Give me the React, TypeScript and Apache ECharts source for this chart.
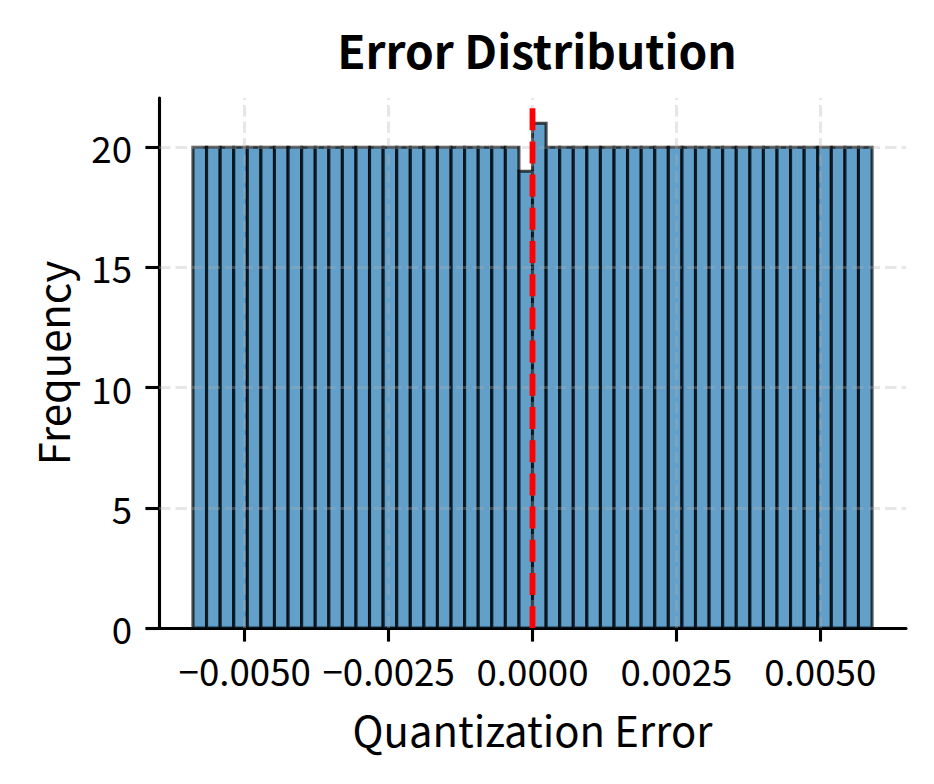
import React, { useEffect, useRef } from "react";
import * as echarts from "echarts";

// Histogram of quantization error (50 bins)
const binLo = -0.0059;
const binHi = 0.0059;
const counts = [
  20, 20, 20, 20, 20, 20, 20, 20, 20, 20,
  20, 20, 20, 20, 20, 20, 20, 20, 20, 20,
  20, 20, 20, 20, 19, 21, 20, 20, 20, 20,
  20, 20, 20, 20, 20, 20, 20, 20, 20, 20,
  20, 20, 20, 20, 20, 20, 20, 20, 20, 20,
];
const xTicks = [-0.005, -0.0025, 0, 0.0025, 0.005];
const yTicks = [0, 5, 10, 15, 20];
const meanError = 0;
const xMin = -0.00649;
const xMax = 0.00649;
const yMax = 22.05;

const FONT = "Noto Sans CJK JP";

const fmtX = (v: number) => (v < 0 ? "\u2212" : "") + Math.abs(v).toFixed(4);

export default function App() {
  const ref = useRef<HTMLDivElement>(null);
  useEffect(() => {
    if (!ref.current) return;
    const chart = echarts.init(ref.current, null, { renderer: "svg" });
    const n = counts.length;
    const w = (binHi - binLo) / n;
    const binData = counts.map((c, i) => [binLo + i * w, binLo + (i + 1) * w, c]);
    const gridColor = "rgba(176,176,176,0.3)";
    const gridLines = [
      ...xTicks.map((v) => [{ coord: [v, 0] }, { coord: [v, yMax] }]),
      ...yTicks.filter((v) => v > 0).map((v) => [{ coord: [xMin, v] }, { coord: [xMax, v] }]),
    ];
    chart.setOption({
      animation: false,
      backgroundColor: "#ffffff",
      title: {
        text: "Error Distribution",
        left: 532,
        textAlign: "center",
        top: 21,
        textStyle: { fontFamily: FONT, fontWeight: "bold", fontSize: 46, color: "#000" },
      },
      grid: { left: 159, right: 28, top: 98, bottom: 156 },
      xAxis: {
        type: "value",
        min: xMin,
        max: xMax,
        name: "Quantization Error",
        nameLocation: "middle",
        nameGap: 80,
        nameTextStyle: { fontFamily: FONT, fontSize: 41.8, color: "#000" },
        axisLine: { show: true, onZero: false, lineStyle: { color: "#000", width: 3.1 } },
        axisTick: { show: true, length: 13.6, lineStyle: { color: "#000", width: 3.1 }, customValues: xTicks },
        axisLabel: {
          show: true,
          margin: 24,
          fontFamily: FONT,
          fontSize: 36.7,
          color: "#000",
          customValues: xTicks,
          formatter: fmtX,
        },
        splitLine: { show: false },
      },
      yAxis: {
        type: "value",
        min: 0,
        max: yMax,
        name: "Frequency",
        nameLocation: "middle",
        nameGap: 86,
        nameTextStyle: { fontFamily: FONT, fontSize: 41.8, color: "#000" },
        axisLine: { show: true, onZero: false, lineStyle: { color: "#000", width: 3.1 } },
        axisTick: { show: true, length: 13.6, lineStyle: { color: "#000", width: 3.1 }, customValues: yTicks },
        axisLabel: {
          show: true,
          margin: 27,
          fontFamily: FONT,
          fontSize: 36.7,
          color: "#000",
          customValues: yTicks,
          formatter: (v: number) => String(v),
        },
        splitLine: { show: false },
      },
      series: [
        {
          type: "custom",
          z: 2,
          data: binData,
          encode: { x: [0, 1], y: 2 },
          renderItem: (params: any, api: any) => {
            const x0 = api.value(0);
            const x1 = api.value(1);
            const c = api.value(2);
            const p0 = api.coord([x0, c]);
            const p1 = api.coord([x1, 0]);
            return {
              type: "rect",
              shape: { x: p0[0], y: p0[1], width: p1[0] - p0[0], height: p1[1] - p0[1] },
              style: { fill: "rgba(31,119,180,0.7)", stroke: "rgba(0,0,0,0.7)", lineWidth: 3.1 },
            };
          },
        },
        {
          type: "line",
          z: 3,
          data: [[xMin, 0]],
          showSymbol: false,
          symbol: "none",
          lineStyle: { width: 0, opacity: 0 },
          markLine: {
            silent: true,
            symbol: "none",
            label: { show: false },
            lineStyle: { color: gridColor, type: [11.5, 5], width: 3.1 },
            data: gridLines,
          },
        },
        {
          type: "line",
          z: 5,
          data: [
            [meanError, yMax],
            [meanError, 0],
          ],
          showSymbol: false,
          symbol: "none",
          lineStyle: { color: "#ff0000", width: 5.8, type: [22, 11.2], dashOffset: 23.2 },
        },
      ],
    });
    return () => chart.dispose();
  }, []);
  return <div ref={ref} style={{ width: 934, height: 784, margin: -8 }} />;
}
